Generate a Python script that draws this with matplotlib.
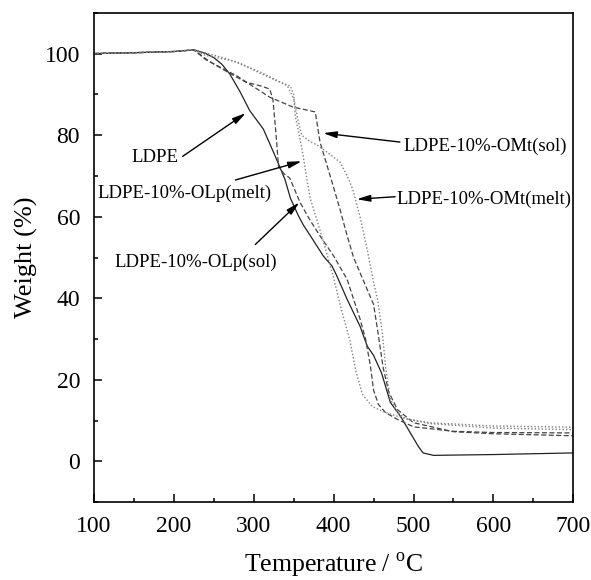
import numpy as np
import matplotlib
matplotlib.use("Agg")
import matplotlib.pyplot as plt
from matplotlib.ticker import MultipleLocator

plt.rcParams['font.family'] = ['Liberation Serif', 'DejaVu Serif']
plt.rcParams['mathtext.fontset'] = 'custom'
plt.rcParams['mathtext.rm'] = 'Liberation Serif'

# TGA curves (temperature in C, weight in %)
ldpe_T = [100, 150, 200, 225, 240, 250, 260, 270, 283, 295, 312, 327, 339, 346, 356,
          362, 371, 387, 398, 404, 417, 433, 442, 450, 460, 471, 484, 506, 512, 525, 600, 700]
ldpe_W = [100.0, 100.2, 100.5, 100.9, 100.0, 99.0, 97.4, 95.0, 90.6, 86.0, 81.5, 74.8, 69.2, 64.5, 60.2,
          58.0, 55.3, 50.4, 47.9, 45.5, 39.7, 33.2, 28.3, 26.0, 21.7, 14.5, 11.0, 3.7, 2.1, 1.5, 1.7, 2.1]

olp_sol_T = [100, 150, 200, 225, 245, 267, 290, 310, 320, 324, 328, 331, 338, 345, 358, 370, 383,
             400, 417, 433, 440, 446, 450, 456, 465, 480, 500, 550, 600, 700]
olp_sol_W = [100.0, 100.2, 100.5, 100.9, 98.0, 95.5, 93.0, 92.0, 91.3, 88.8, 80.0, 72.4, 70.5, 69.5, 63.5, 59.3, 55.3,
             50.4, 44.6, 35.0, 30.0, 23.5, 17.5, 14.0, 12.0, 10.3, 8.5, 7.4, 7.1, 7.0]

omt_sol_T = [100, 150, 200, 225, 240, 279, 320, 349, 370, 377, 381, 383, 392, 399.5, 408, 416, 425,
             438, 450, 456, 462, 469, 480, 500, 550, 600, 700]
omt_sol_W = [100.0, 100.2, 100.5, 100.9, 98.5, 94.5, 89.3, 86.9, 86.0, 85.7, 80.8, 78.3, 72.4, 67.5, 61.8, 56.0, 50.0,
             44.0, 38.5, 31.0, 23.0, 17.0, 12.7, 9.5, 7.3, 6.8, 6.3]

olp_melt_T = [100, 150, 200, 225, 240, 279, 310, 333, 346, 350, 352, 358, 362, 366.5, 371, 379, 390,
              400, 410, 420, 428, 436, 448, 465, 490, 520, 600, 700]
olp_melt_W = [100.0, 100.2, 100.5, 100.9, 99.5, 98.0, 95.0, 93.0, 92.0, 90.0, 84.7, 79.0, 74.8, 69.2, 64.3, 59.3, 52.0,
              45.0, 37.0, 30.0, 22.0, 16.5, 13.5, 12.0, 10.5, 9.5, 8.7, 8.4]

omt_melt_T = [100, 150, 200, 225, 267, 308, 342, 350, 355, 360, 370, 380, 392, 408, 417, 424, 433,
              442, 450, 455, 461, 465, 471, 480, 490, 520, 600, 700]
omt_melt_W = [100.0, 100.2, 100.5, 100.9, 98.7, 95.5, 92.1, 89.0, 84.0, 80.0, 78.5, 77.5, 75.8, 73.4, 70.0, 66.7, 60.0,
              52.0, 43.9, 39.7, 31.6, 23.3, 15.2, 12.0, 10.5, 9.3, 8.2, 7.8]

# label text, text centre, arrow start, arrow tip (data coords)
labels = ["LDPE", "LDPE-10%-OLp(melt)", "LDPE-10%-OLp(sol)", "LDPE-10%-OMt(sol)", "LDPE-10%-OMt(melt)"]
label_xy = [(176, 74.4), (213, 65.8), (227, 48.8), (590, 77.3), (588, 64.3)]
arrow_from = [(211, 74.8), (277, 69.0), (302, 53.2), (483, 78.3), (477, 64.9)]
arrow_to = [(290, 85.4), (360, 73.6), (357, 63.5), (387, 80.5), (429, 64.3)]

fig = plt.figure(figsize=(5.91, 5.80), dpi=100)
ax = fig.add_axes([0.159, 0.134, 0.811, 0.844])

ax.plot(ldpe_T, ldpe_W, color="#222222", lw=0.9, ls="-")
ax.plot(olp_sol_T, olp_sol_W, color="#444444", lw=0.9, dashes=(4, 2))
ax.plot(omt_sol_T, omt_sol_W, color="#444444", lw=0.9, dashes=(4, 2))
ax.plot(olp_melt_T, olp_melt_W, color="#808080", lw=1.0, dashes=(1, 1.5))
ax.plot(omt_melt_T, omt_melt_W, color="#808080", lw=1.0, dashes=(1, 1.5))

for txt, pos, start, tip in zip(labels, label_xy, arrow_from, arrow_to):
    ax.text(pos[0], pos[1], txt, ha="center", va="center", fontsize=13.5)
    ax.annotate("", xy=tip, xytext=start,
                arrowprops=dict(arrowstyle="-|>,head_length=0.8,head_width=0.2",
                                color="black", lw=1.0, shrinkA=0, shrinkB=0))

ax.set_xlim(100, 700)
ax.set_ylim(-10, 110)
ax.xaxis.set_major_locator(MultipleLocator(100))
ax.xaxis.set_minor_locator(MultipleLocator(50))
ax.yaxis.set_major_locator(MultipleLocator(20))
ax.yaxis.set_minor_locator(MultipleLocator(10))
ax.set_yticks([0, 20, 40, 60, 80, 100])
ax.tick_params(which="both", direction="in", top=False, right=False, width=1.1)
ax.tick_params(which="major", length=5.5, labelsize=17, pad=10)
ax.tick_params(which="minor", length=3)
for sp in ax.spines.values():
    sp.set_linewidth(1.2)

ax.set_xlabel(r"Temperature / $^{\mathrm{o}}$C", fontsize=18.5, labelpad=10)
ax.set_ylabel("Weight (%)", fontsize=19, labelpad=5)

fig.savefig("out.png", dpi=100)
